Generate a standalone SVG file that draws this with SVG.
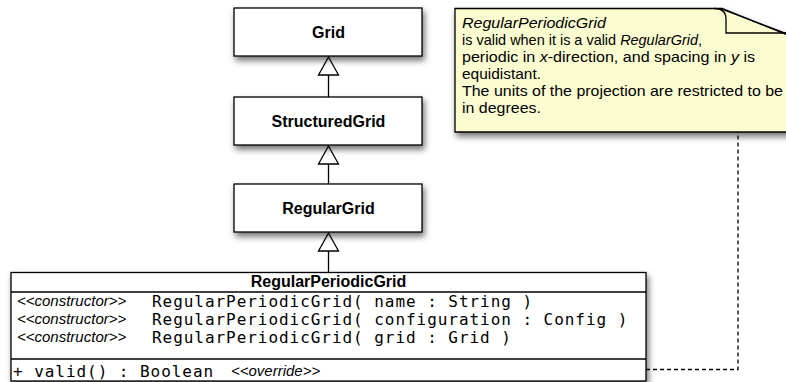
<svg xmlns="http://www.w3.org/2000/svg" width="786" height="382" viewBox="0 0 786 382">
<style>
.box{fill:#fff;stroke:#000;stroke-width:1.3}
.lbl{font-family:"Liberation Sans",Arial,sans-serif;font-weight:bold;font-size:16px;text-anchor:middle;fill:#000}
.ster{font-family:"Liberation Sans",Arial,sans-serif;font-style:italic;font-size:15px;fill:#000}
.mono{font-family:"DejaVu Sans Mono",monospace;font-size:16px;letter-spacing:0.95px;fill:#000}
.note{font-family:"Liberation Sans",Arial,sans-serif;font-size:14.5px;fill:#000}
.line{stroke:#000;stroke-width:1.3;fill:none}
.tri{fill:#fff;stroke:#000;stroke-width:1.3}
.dash{stroke:#000;stroke-width:1.3;fill:none;stroke-dasharray:4,3}
</style>
<defs>
<filter id="sh" x="-10%" y="-20%" width="130%" height="160%">
<feDropShadow dx="2" dy="4" stdDeviation="3" flood-color="#000" flood-opacity="0.55"/>
</filter>
</defs>
<g id="connectors">
<line class="line" x1="328.5" y1="75" x2="328.5" y2="97"/>
<polygon class="tri" points="328.5,57 318.5,75 338.5,75"/>
<line class="line" x1="328.5" y1="164" x2="328.5" y2="184"/>
<polygon class="tri" points="328.5,146 318.5,164 338.5,164"/>
<line class="line" x1="328.5" y1="251" x2="328.5" y2="272.5"/>
<polygon class="tri" points="328.5,233 318.5,251 338.5,251"/>
<polyline class="dash" points="646,369.5 738,369.5 738,132"/>
</g>
<g id="note">
<path d="M455,8.5 H722 L800,40 V132 H455 Z" fill="#fcfcd1" stroke="#000" stroke-width="1.3" filter="url(#sh)"/>
<path d="M714,8.5 Q726,8.5 726,19 V33 H790" class="line"/>
<path d="M720,8.5 L790,35" class="line"/>
<text class="note" x="462" y="27.5" font-style="italic" textLength="144" lengthAdjust="spacingAndGlyphs">RegularPeriodicGrid</text>
<text class="note" x="462" y="44.5" textLength="240" lengthAdjust="spacingAndGlyphs">is valid when it is a valid <tspan font-style="italic">RegularGrid</tspan>,</text>
<text class="note" x="462" y="61.5" textLength="293" lengthAdjust="spacingAndGlyphs">periodic in <tspan font-style="italic">x</tspan>-direction, and spacing in <tspan font-style="italic">y</tspan> is</text>
<text class="note" x="462" y="78.5" textLength="79" lengthAdjust="spacingAndGlyphs">equidistant.</text>
<text class="note" x="462" y="95.5" textLength="321" lengthAdjust="spacingAndGlyphs">The units of the projection are restricted to be</text>
<text class="note" x="462" y="112.5" textLength="79" lengthAdjust="spacingAndGlyphs">in degrees.</text>
</g>
<g id="Grid">
<rect class="box" x="234" y="8" width="188" height="48" filter="url(#sh)"/>
<text class="lbl" x="328.5" y="38">Grid</text>
</g>
<g id="StructuredGrid">
<rect class="box" x="234" y="97" width="188" height="48" filter="url(#sh)"/>
<text class="lbl" x="328.5" y="126.5">StructuredGrid</text>
</g>
<g id="RegularGrid">
<rect class="box" x="234" y="184" width="188" height="48" filter="url(#sh)"/>
<text class="lbl" x="328.5" y="214">RegularGrid</text>
</g>
<g id="RegularPeriodicGrid">
<rect class="box" x="11" y="272.5" width="635" height="108.5" filter="url(#sh)"/>
<line class="line" x1="11" y1="292" x2="646" y2="292"/>
<line class="line" x1="11" y1="359" x2="646" y2="359"/>
<text class="lbl" x="328.5" y="287">RegularPeriodicGrid</text>
<text class="ster" x="17" y="306">&lt;&lt;constructor&gt;&gt;</text>
<text class="mono" x="152" y="306.5">RegularPeriodicGrid( name : String )</text>
<text class="ster" x="17" y="324">&lt;&lt;constructor&gt;&gt;</text>
<text class="mono" x="152" y="324.5">RegularPeriodicGrid( configuration : Config )</text>
<text class="ster" x="17" y="342">&lt;&lt;constructor&gt;&gt;</text>
<text class="mono" x="152" y="342.5">RegularPeriodicGrid( grid : Grid )</text>
<text class="mono" x="13" y="376.5">+ valid() : Boolean</text>
<text class="ster" x="231" y="376">&lt;&lt;override&gt;&gt;</text>
</g>
</svg>
